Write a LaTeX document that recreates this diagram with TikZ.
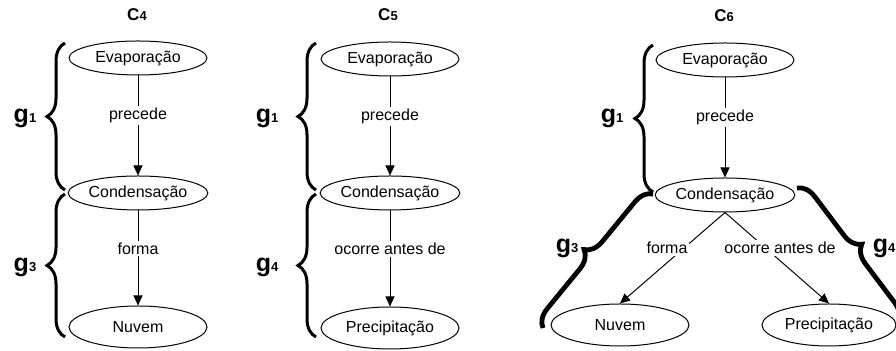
\documentclass[tikz,border=0pt]{standalone}
\usepackage{fontspec}
\setmainfont{Liberation Sans}
\usetikzlibrary{arrows.meta}
\usetikzlibrary{decorations.pathreplacing}
\usetikzlibrary{shapes.geometric}
% map title and group label
\newcommand{\mapname}[1]{{\fontsize{8.5}{9}\selectfont\bfseries C}{\fontsize{6.5}{7}\selectfont\bfseries #1}}
\newcommand{\grouplabel}[1]{{\fontsize{12.5}{13}\selectfont\bfseries g}{\fontsize{6.5}{7}\selectfont\bfseries #1}}
\tikzset {
  % concept nodes
  concept/.style = {
    draw = black,
    ellipse,
    line width = 0.5pt,
    minimum width = 69pt,
    minimum height = 17pt,
    inner sep = 0,
    font = \fontsize{8}{9}\selectfont
  },
  low concept/.style = {
    concept,
    minimum height = 21pt
  },
  % linking phrase
  link/.style = {
    fill = white,
    inner sep = 1pt,
    font = \fontsize{8}{9}\selectfont
  }
}
\tikzset {
  arr/.style = {
    draw = black,
    line width = 0.5pt,
    -{Triangle[length = 5pt, width = 4.5pt]}
  },
  group brace/.style = {
    draw = black,
    line width = 1.5pt,
    decorate,
    decoration = {brace, amplitude = 9pt}
  },
  heavy brace/.style = {
    group brace,
    line width = 2.4pt
  }
}
\begin{document}
\begin{tikzpicture}[x = 0.5pt, y = -0.5pt]
    \useasboundingbox (0,0) rectangle (896,351);

    % C4
    \node (title4) at (137,15) {\mapname{4}};
    \node[concept] (evap4) at (138,58) {Evaporação};
    \node[concept] (cond4) at (138,193) {Condensação};
    \node[low concept] (nuvem4) at (138,327) {Nuvem};
    \draw[arr] (evap4) -- node[link, pos = 0.4] {precede} (cond4);
    \draw[arr] (cond4) -- node[link, pos = 0.4] {forma} (nuvem4);
    \draw[group brace] (65,190) -- (65,43);
    \draw[group brace] (65,337) -- (65,194);
    \node (g1a) at (25,118) {\grouplabel{1}};
    \node (g3a) at (25,267) {\grouplabel{3}};

    % C5
    \node (title5) at (388,15) {\mapname{5}};
    \node[concept] (evap5) at (390,59) {Evaporação};
    \node[concept] (cond5) at (390,193) {Condensação};
    \node[low concept] (prec5) at (390,328) {Precipitação};
    \draw[arr] (evap5) -- node[link, pos = 0.4] {precede} (cond5);
    \draw[arr] (cond5) -- node[link, pos = 0.4] {ocorre antes de} (prec5);
    \draw[group brace] (316,190) -- (316,43);
    \draw[group brace] (316,337) -- (316,194);
    \node (g1b) at (267,118) {\grouplabel{1}};
    \node (g4b) at (267,267) {\grouplabel{4}};

    % C6
    \node (title6) at (724,16) {\mapname{6}};
    \node[concept] (evap6) at (725,60) {Evaporação};
    \node[concept] (cond6) at (725,195) {Condensação};
    \node[low concept] (nuvem6) at (620,325) {Nuvem};
    \node[low concept, minimum width = 67pt] (prec6) at (829,325) {Precipitação};
    \draw[arr] (evap6) -- node[link, pos = 0.4] {precede} (cond6);
    \draw[arr] (cond6.south) -- (nuvem6.north);
    \draw[arr] (cond6.south) -- (prec6.north);
    \node[link] (forma6) at (667,248) {forma};
    \node[link] (antes6) at (780,248) {ocorre antes de};
    \draw[group brace] (653,192) -- (653,45);
    \draw[heavy brace] (543,328) -- (653,194);
    \draw[heavy brace] (797,188) -- (898,322);
    \node (g1c) at (612,118) {\grouplabel{1}};
    \node (g3c) at (567,248) {\grouplabel{3}};
    \node (g4c) at (884,248) {\grouplabel{4}};
\end{tikzpicture}
\end{document}
